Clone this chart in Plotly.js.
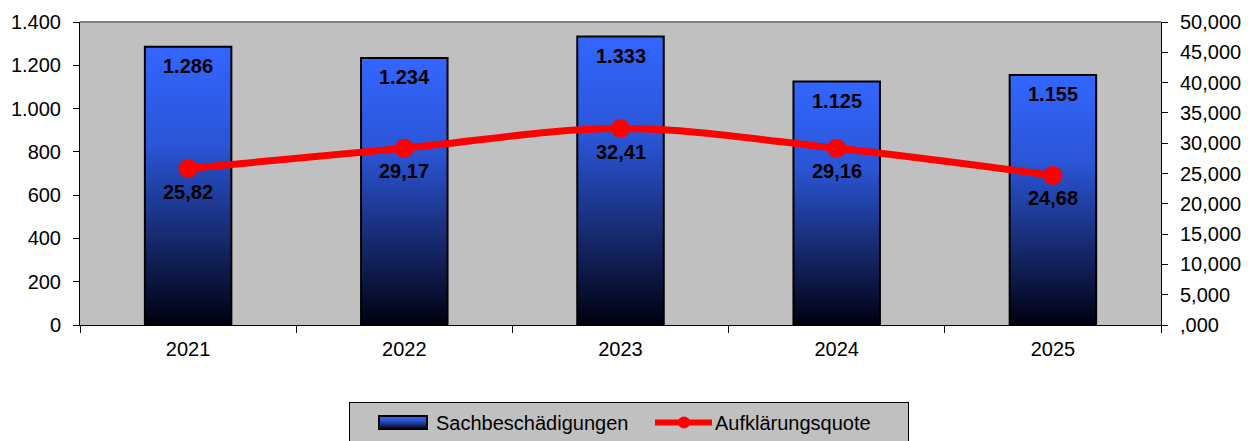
<!DOCTYPE html>
<html>
<head>
<meta charset="utf-8">
<script src="https://cdn.plot.ly/plotly-3.0.1.min.js"></script>
<style>
html,body{margin:0;padding:0;background:#fff;}
#chart{width:1248px;height:441px;}
</style>
</head>
<body>
<div id="chart"></div>
<script>
const years = ['2021', '2022', '2023', '2024', '2025'];
const sachbeschaedigungen = [1286, 1234, 1333, 1125, 1155];
const aufklaerungsquote = [25.82, 29.17, 32.41, 29.16, 24.68];
const barLabels = ['1.286', '1.234', '1.333', '1.125', '1.155'];
const quoteLabels = ['25,82', '29,17', '32,41', '29,16', '24,68'];
const leftTickVals = [0, 200, 400, 600, 800, 1000, 1200, 1400];
const leftTickText = ['0', '200', '400', '600', '800', '1.000', '1.200', '1.400'];
const rightTickVals = [0, 5, 10, 15, 20, 25, 30, 35, 40, 45, 50];
const rightTickText = [',000', '5,000', '10,000', '15,000', '20,000', '25,000', '30,000', '35,000', '40,000', '45,000', '50,000'];

const FONT = 'Liberation Sans, Arial, sans-serif';

const traces = [
  {
    type: 'bar',
    name: 'Sachbeschädigungen',
    x: years,
    y: sachbeschaedigungen,
    width: 0.4,
    marker: {color: '#3366ff', line: {color: '#000000', width: 2}},
    hoverinfo: 'skip'
  },
  {
    type: 'scatter',
    name: 'Aufklärungsquote',
    x: years,
    y: aufklaerungsquote,
    yaxis: 'y2',
    mode: 'lines+markers',
    line: {color: '#ff0000', width: 7, shape: 'spline', smoothing: 1},
    marker: {color: '#ff0000', size: 19},
    hoverinfo: 'skip'
  }
];

// annotation x uses the category index (0..4) on the category axis
const annotations = [];
years.forEach((yr, i) => {
  annotations.push({
    x: i, y: sachbeschaedigungen[i], xref: 'x', yref: 'y',
    text: '<b>' + barLabels[i] + '</b>', showarrow: false,
    yanchor: 'middle', yshift: -19,
    font: {family: FONT, size: 20, color: '#000000'}
  });
  annotations.push({
    x: i, y: aufklaerungsquote[i], xref: 'x', yref: 'y2',
    text: '<b>' + quoteLabels[i] + '</b>', showarrow: false,
    yanchor: 'middle', yshift: -23,
    font: {family: FONT, size: 20, color: '#000000'}
  });
});

const layout = {
  width: 1248,
  height: 441,
  margin: {l: 80, r: 87, t: 22, b: 116, autoexpand: false},
  paper_bgcolor: '#ffffff',
  plot_bgcolor: '#c0c0c0',
  separators: ',.',
  font: {family: FONT, size: 20, color: '#000000'},
  showlegend: true,
  xaxis: {
    type: 'category',
    range: [-0.5, 4.5],
    showline: true,
    linecolor: '#000000',
    linewidth: 1,
    ticks: 'outside',
    tickson: 'boundaries',
    ticklen: 7,
    tickcolor: '#000000',
    showgrid: false,
    ticklabelstandoff: 6,
    tickfont: {family: FONT, size: 20},
    fixedrange: true
  },
  yaxis: {
    range: [0, 1400],
    tickvals: leftTickVals,
    ticktext: leftTickText,
    showline: true,
    linecolor: '#000000',
    linewidth: 1,
    ticks: 'outside',
    ticklen: 6,
    tickcolor: '#000000',
    showgrid: false,
    zeroline: false,
    ticklabelstandoff: 8,
    tickfont: {family: FONT, size: 20},
    fixedrange: true
  },
  yaxis2: {
    overlaying: 'y',
    side: 'right',
    range: [0, 50],
    tickvals: rightTickVals,
    ticktext: rightTickText,
    showline: true,
    linecolor: '#000000',
    linewidth: 1,
    ticks: 'outside',
    ticklen: 6,
    tickcolor: '#000000',
    showgrid: false,
    zeroline: false,
    ticklabelstandoff: 8,
    tickfont: {family: FONT, size: 20},
    fixedrange: true
  },
  shapes: [
    {type: 'line', xref: 'paper', yref: 'paper', x0: 0, x1: 1, y0: 1, y1: 1,
     line: {color: '#808080', width: 2}}
  ],
  annotations: annotations,
  legend: {
    orientation: 'h',
    x: 629 / 1248,
    xanchor: 'center',
    xref: 'container',
    yref: 'container',
    y: (441 - 402) / 441,
    yanchor: 'top',
    bgcolor: '#c0c0c0',
    bordercolor: '#000000',
    borderwidth: 1,
    font: {family: FONT, size: 20},
    entrywidth: 188,
    itemwidth: 76
  }
};

function parseTranslate(t) {
  const m = /translate\(\s*([-\d.e]+)[ ,]+([-\d.e]+)\s*\)/.exec(t || '');
  return m ? [parseFloat(m[1]), parseFloat(m[2])] : [0, 0];
}

function applyGradient(gd) {
  const svg = gd.querySelector('.main-svg');
  if (!svg) return;
  let defs = svg.querySelector('defs');
  if (!defs) {
    defs = document.createElementNS('http://www.w3.org/2000/svg', 'defs');
    svg.insertBefore(defs, svg.firstChild);
  }
  if (!svg.querySelector('#barGrad')) {
    const lg = document.createElementNS('http://www.w3.org/2000/svg', 'linearGradient');
    lg.setAttribute('id', 'barGrad');
    lg.setAttribute('x1', '0'); lg.setAttribute('y1', '0');
    lg.setAttribute('x2', '0'); lg.setAttribute('y2', '1');
    const stops = [['0', '#3366ff'], ['0.35', '#2a55d6'], ['0.7', '#16286a'], ['1', '#000010']];
    stops.forEach(s => {
      const st = document.createElementNS('http://www.w3.org/2000/svg', 'stop');
      st.setAttribute('offset', s[0]);
      st.setAttribute('stop-color', s[1]);
      lg.appendChild(st);
    });
    defs.appendChild(lg);
  }
  gd.querySelectorAll('.barlayer .trace.bars .point path').forEach(p => {
    p.style.fill = 'url(#barGrad)';
  });

  const legendTraces = gd.querySelectorAll('.legend .traces');
  if (legendTraces.length) {
    const t1 = legendTraces[0];
    const txt1 = t1.querySelector('text.legendtext');
    const barPath = t1.querySelector('.legendpoints path');
    if (barPath && txt1) {
      const textLeft = txt1.getBoundingClientRect().left;
      barPath.removeAttribute('transform');
      const ctm = barPath.getScreenCTM();
      const x0 = (textLeft - 57) - ctm.e;
      barPath.setAttribute('d', 'M' + x0 + ',-6.5h48v13h-48z');
      barPath.style.fill = 'url(#barGrad)';
      barPath.style.stroke = '#000000';
      barPath.style.strokeWidth = '2px';
    }
  }
  if (legendTraces.length > 1) {
    const t2 = legendTraces[1];
    const txt2 = t2.querySelector('text.legendtext');
    if (txt2) {
      const textLeft = txt2.getBoundingClientRect().left;
      const line = t2.querySelector('.legendlines path');
      if (line) {
        const ctm = line.getScreenCTM();
        const x0 = (textLeft - 60) - ctm.e;
        line.setAttribute('d', 'M' + x0 + ',0h57');
        line.style.strokeWidth = '6px';
      }
      t2.querySelectorAll('.legendpoints path').forEach(p => {
        const orig = parseTranslate(p.getAttribute('transform'));
        const pm = p.parentNode.getScreenCTM();
        const cx = (textLeft - 31) - pm.e;
        p.setAttribute('transform', 'translate(' + cx + ',' + orig[1] + ') scale(0.75)');
      });
    }
  }
}

const gd = document.getElementById('chart');
Plotly.newPlot(gd, traces, layout, {staticPlot: true, displayModeBar: false}).then(() => {
  applyGradient(gd);
  gd.on('plotly_afterplot', () => applyGradient(gd));
});
</script>
</body>
</html>
